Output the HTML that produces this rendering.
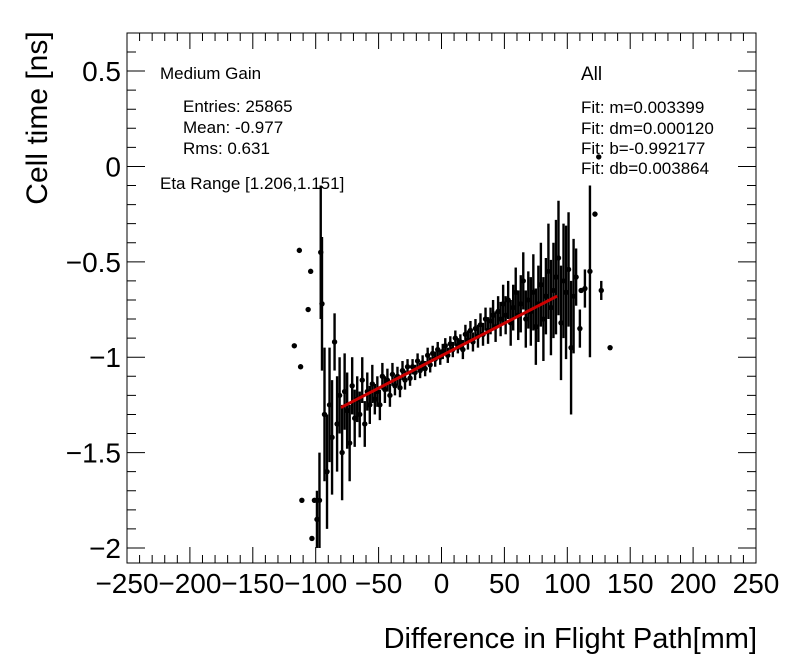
<!DOCTYPE html>
<html><head><meta charset="utf-8"><style>
html,body{margin:0;padding:0;background:#fff;}
svg{display:block;font-family:"Liberation Sans",Arial,sans-serif;}
</style></head><body>
<svg id="chart" width="796" height="672" viewBox="0 0 796 672">
<rect x="0" y="0" width="796" height="672" fill="#fff"/>
<g id="marks"></g>
<g id="axes"></g>
<text x="47" y="118" font-size="30" text-anchor="middle" transform="rotate(-90 47 118)">Cell time [ns]</text>
<text x="757" y="648" font-size="29" text-anchor="end">Difference in Flight Path[mm]</text>
<g font-size="17">
<text x="160" y="79">Medium Gain</text>
<text x="183" y="112">Entries: 25865</text>
<text x="183" y="133">Mean: -0.977</text>
<text x="183" y="154">Rms: 0.631</text>
<text x="160" y="189">Eta Range [1.206,1.151]</text>
<text x="581" y="80" font-size="19">All</text>
<text x="581" y="113">Fit: m=0.003399</text>
<text x="581" y="134">Fit: dm=0.000120</text>
<text x="581" y="154">Fit: b=-0.992177</text>
<text x="581" y="174">Fit: db=0.003864</text>
</g>
</svg>
<script>
const xTicks=[-250,-200,-150,-100,-50,0,50,100,150,200,250];
const xTickLabels=["\u2212250","\u2212200","\u2212150","\u2212100","\u221250","0","50","100","150","200","250"];
const yTicks=[0.5,0,-0.5,-1,-1.5,-2];
const yTickLabels=["0.5","0","\u22120.5","\u22121","\u22121.5","\u22122"];
const binX=[-117,-113,-112,-111,-106,-104,-103,-101,-99,-97,-96,-95,-93,-91,-89,-87,-85,-83,-81,-79,-77,-75,-73,-71,-69,-67,-65,-63,-61,-59,-57,-55,-53,-51,-49,-47,-45,-43,-41,-39,-37,-35,-33,-31,-29,-27,-25,-23,-21,-19,-17,-15,-13,-11,-9,-7,-5,-3,-1,1,3,5,7,9,11,13,15,17,19,21,23,25,27,29,31,33,35,37,39,41,43,45,47,49,51,53,55,57,59,61,63,65,67,69,71,73,75,77,79,81,83,85,87,89,91,93,95,97,99,101,103,105,107,110,111,114,118,122,125,127,134];
const binY=[-0.94,-0.44,-1.05,-1.75,-0.75,-0.55,-1.95,-1.75,-1.85,-1.75,-0.45,-0.72,-1.3,-1.6,-1.25,-1.42,-0.92,-1.35,-1.2,-1.5,-1.18,-1.28,-1.45,-1.15,-1.32,-1.22,-1.3,-1.12,-1.35,-1.18,-1.25,-1.14,-1.22,-1.18,-1.25,-1.1,-1.17,-1.12,-1.2,-1.09,-1.15,-1.1,-1.16,-1.07,-1.12,-1.05,-1.11,-1.05,-1.08,-1.02,-1.07,-1.03,-1.06,-0.99,-1.04,-0.98,-1.01,-0.96,-1.0,-0.97,-0.94,-0.99,-0.93,-0.96,-0.9,-0.94,-0.92,-0.96,-0.88,-0.91,-0.86,-0.92,-0.85,-0.89,-0.83,-0.88,-0.8,-0.86,-0.81,-0.78,-0.84,-0.76,-0.8,-0.72,-0.78,-0.7,-0.82,-0.74,-0.66,-0.78,-0.72,-0.6,-0.8,-0.7,-0.76,-0.66,-0.84,-0.72,-0.62,-0.8,-0.68,-0.55,-0.74,-0.65,-0.58,-0.48,-0.82,-0.6,-0.66,-0.54,-0.95,-0.68,-0.58,-0.85,-0.65,-0.64,-0.55,-0.25,0.05,-0.65,-0.95];
const binErr=[0,0,0,0,0,0,0,0,0.15,0.25,0.35,0.35,0.35,0.3,0.3,0.3,0.15,0.25,0.2,0.25,0.2,0.2,0.2,0.15,0.15,0.12,0.12,0.12,0.12,0.1,0.1,0.1,0.08,0.08,0.08,0.07,0.07,0.06,0.06,0.06,0.05,0.05,0.05,0.05,0.05,0.04,0.04,0.04,0.04,0.04,0.04,0.04,0.04,0.04,0.04,0.04,0.04,0.04,0.04,0.04,0.04,0.04,0.04,0.04,0.04,0.04,0.04,0.05,0.05,0.05,0.05,0.05,0.05,0.06,0.06,0.06,0.06,0.07,0.07,0.08,0.08,0.08,0.09,0.1,0.1,0.1,0.12,0.12,0.13,0.13,0.15,0.15,0.15,0.15,0.18,0.2,0.2,0.2,0.22,0.22,0.2,0.25,0.25,0.25,0.3,0.3,0.3,0.3,0.35,0.3,0.35,0.3,0.15,0.1,0,0.1,0.45,0,0,0.05,0];
const fitSlope=0.003399, fitIntercept=-0.992177;
const fitRange=[-80,92];

const X0=127,X1=756,Y0=33,Y1=563;
const xMin=-250,xMax=250;
const yTop=0.5+(71-33)/190.5, yBot=-2-(563-548)/190.5;
function sx(v){return X0+(v-xMin)/(xMax-xMin)*(X1-X0);}
function sy(v){return Y0+(yTop-v)/(yTop-yBot)*(Y1-Y0);}
const NS='http://www.w3.org/2000/svg';
function mk(tag,attrs,parent){const e=document.createElementNS(NS,tag);for(const k in attrs)e.setAttribute(k,attrs[k]);parent.appendChild(e);return e;}
const axes=document.getElementById('axes');
const marks=document.getElementById('marks');
const frame=mk('rect',{x:X0,y:Y0,width:X1-X0,height:Y1-Y0,fill:'none',stroke:'#000','stroke-width':1},axes);


for(let v=xMin;v<=xMax;v+=10){
  const major=(v%50===0);const L=major?16:8;const x=sx(v);
  const t=mk('path',{d:`M${x},${Y1}V${Y1-L}M${x},${Y0}V${Y0+L}`,stroke:'#000','stroke-width':1},axes);
  
  
}
xTicks.forEach((v,i)=>{
  const t=mk('text',{x:sx(v),y:593,'font-size':28,'text-anchor':'middle'},axes);
  t.textContent=xTickLabels[i];
  
  
});
for(let k=-22;k<=7;k++){
  const v=k/10; if(v<yBot||v>yTop) continue;
  const major=(k%5===0);const L=major?18:9;const y=sy(v);
  const t=mk('path',{d:`M${X0},${y}H${X0+L}M${X1},${y}H${X1-L}`,stroke:'#000','stroke-width':1},axes);
  
  
}
yTicks.forEach((v,i)=>{
  const t=mk('text',{x:121,y:sy(v)+10,'font-size':28,'text-anchor':'end'},axes);
  t.textContent=yTickLabels[i];
  
  
});
binX.forEach((xv,i)=>{
  const x=sx(xv),y=sy(binY[i]);
  if(binErr[i]>0){
    const e=mk('line',{x1:x,x2:x,y1:sy(binY[i]+binErr[i]),y2:sy(binY[i]-binErr[i]),stroke:'#000','stroke-width':2.4},marks);
    
    
  }
  const c=mk('circle',{cx:x,cy:y,r:2.7,fill:'#000'},marks);
  
  
});
const fl=mk('line',{x1:sx(fitRange[0]),y1:sy(fitIntercept+fitSlope*fitRange[0]),x2:sx(fitRange[1]),y2:sy(fitIntercept+fitSlope*fitRange[1]),stroke:'#cc0000','stroke-width':3},marks);


</script>
</body></html>
